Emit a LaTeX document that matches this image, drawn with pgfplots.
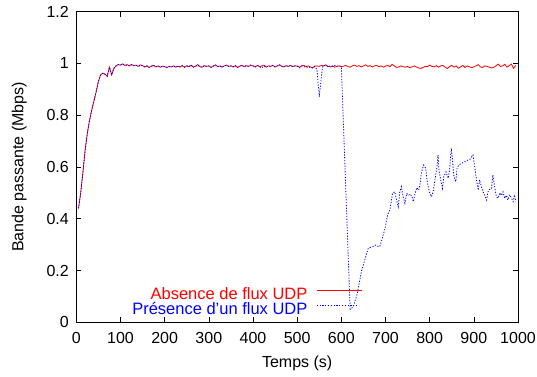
\documentclass[border=0pt]{standalone}
\usepackage{pgfplots}
\pgfplotsset{compat=1.18}
\usepackage{fontspec}
\setmainfont{Liberation Sans}
\begin{document}
\fontsize{16}{19}\selectfont
\begin{tikzpicture}
\begin{axis}[
  name=main,
  scale only axis, width=441.7pt, height=310.8pt,
  xmin=0, xmax=1000, ymin=0, ymax=1.2,
  xtick={0,100,200,300,400,500,600,700,800,900,1000},
  ytick={0,0.2,0.4,0.6,0.8,1,1.2},
  tick align=inside, major tick length=5pt,
  tick style={black, line width=0.6pt},
  axis line style={black, line width=0.8pt},
  /pgf/number format/assume math mode=true,
  /pgf/number format/1000 sep={},
  ticklabel style={font=\fontsize{16}{19}\selectfont},
  xticklabel style={yshift=-4pt},
  yticklabel style={xshift=-2pt},
  xlabel={Temps (s)}, ylabel={Bande passante (Mbps)},
  label style={font=\fontsize{16}{19}\selectfont},
  xlabel style={at={(axis description cs:0.5,-0.132)}, anchor=center},
  ylabel style={at={(axis description cs:-0.129,0.5)}, anchor=center},
  legend plot pos=right,
  legend cell align=right,
  legend style={draw=none, fill=none, at={(rel axis cs:0.648,0.016)}, anchor=south east,
    font=\fontsize{16.5}{16.5}\selectfont, row sep=0pt, column sep=9pt, inner sep=0pt,
    nodes={inner sep=0pt, text height=0.74em, text depth=0.19em}},
]
\addlegendimage{legend image code/.code={\draw[draw=red, line width=0.9pt] (0pt,4.5pt) -- (45pt,4.5pt);}}
\addlegendentry[text=red]{Absence de flux UDP}
\addlegendimage{legend image code/.code={\draw[draw=blue, line width=0.9pt, dash pattern=on 1.2pt off 1.6pt] (0pt,4.5pt) -- (42pt,4.5pt);}}
\addlegendentry[text=blue]{Présence d'un flux UDP}
\addplot[color=red, line width=0.8pt, forget plot] coordinates {
(5,0.44)(10,0.50)(15,0.58)(20,0.665)(25,0.73)(30,0.78)(35,0.82)(40,0.855)(45,0.89)(50,0.93)
(55,0.955)(60,0.962)(65,0.958)(70,0.95)(75,0.985)(80,0.955)(85,0.98)(90,0.99)(95,0.995)
(100,0.993)(105,0.998)(110,0.992)(115,0.995)(120,0.990)(125,0.996)(130,0.991)(135,0.993)(140,0.988)(145,0.994)
(150,0.991)(155,0.986)(160,0.990)(165,0.984)(170,0.989)(175,0.992)(180,0.986)(185,0.990)(190,0.985)(195,0.989)
(200,0.987)(205,0.983)(210,0.988)(215,0.986)(220,0.990)(225,0.985)(230,0.989)(235,0.986)(240,0.991)(245,0.984)
(250,0.990)(255,0.987)(260,0.992)(265,0.985)(270,0.989)(275,0.995)(280,0.987)(285,0.985)(290,0.991)(295,0.988)
(300,0.990)(305,0.984)(310,0.989)(315,0.994)(320,0.987)(325,0.990)(330,0.985)(335,0.990)(340,0.993)(345,0.988)
(350,0.990)(355,0.986)(360,0.991)(365,0.984)(370,0.989)(375,0.992)(380,0.987)(385,0.991)(390,0.988)(395,0.993)
(400,0.990)(405,0.986)(410,0.992)(415,0.987)(420,0.990)(425,0.993)(430,0.985)(435,0.990)(440,0.988)(445,0.992)
(450,0.986)(455,0.990)(460,0.994)(465,0.989)(470,0.986)(475,0.991)(480,0.988)(485,0.992)(490,0.987)(495,0.990)
(500,0.989)(505,0.985)(510,0.990)(515,0.992)(520,0.987)(525,0.990)(530,0.986)(535,0.982)(540,0.989)(545,0.990)
(550,0.988)(555,0.992)(560,0.990)(565,0.994)(570,0.988)(575,0.986)(580,0.990)(585,0.985)(590,0.988)(595,0.990)
(600,0.987)(605,0.989)(610,0.992)(615,0.987)(620,0.985)(625,0.990)(630,0.993)(635,0.988)(640,0.991)(645,0.986)
(650,0.990)(655,0.994)(660,0.988)(665,0.991)(670,0.986)(675,0.990)(680,0.992)(685,0.987)(690,0.990)(695,0.985)
(700,0.989)(705,0.992)(710,0.987)(715,0.996)(720,0.990)(725,0.984)(730,0.986)(735,0.990)(740,0.987)(745,0.985)
(750,0.988)(755,0.983)(760,0.986)(765,0.990)(770,0.986)(775,0.982)(780,0.980)(785,0.984)(790,0.988)(795,0.987)
(800,0.993)(805,0.988)(810,0.986)(815,0.991)(820,0.985)(825,0.990)(830,0.992)(835,0.985)(840,0.980)(845,0.987)
(850,0.992)(855,0.985)(860,0.990)(865,0.981)(870,0.986)(875,0.992)(880,0.984)(885,0.990)(890,0.987)(895,0.983)
(900,0.986)(905,0.990)(910,0.995)(915,0.986)(920,0.984)(925,0.990)(930,0.988)(935,0.985)(940,0.982)(945,0.984)
(950,0.990)(955,0.997)(960,0.988)(965,0.990)(970,0.996)(975,0.985)(980,0.991)(985,0.997)(990,0.980)(995,0.992)
};
\addplot[color=blue, line width=0.8pt, dash pattern=on 1.2pt off 1.6pt, forget plot] coordinates {
(5,0.44)(10,0.50)(15,0.58)(20,0.665)(25,0.73)(30,0.78)(35,0.82)(40,0.855)(45,0.89)(50,0.93)
(55,0.955)(60,0.962)(65,0.958)(70,0.95)(75,0.985)(80,0.955)(85,0.98)(90,0.99)(95,0.995)
(100,0.993)(105,0.997)(110,0.992)(115,0.993)(120,0.990)(125,0.994)(130,0.991)(135,0.993)(140,0.988)(145,0.992)
(150,0.991)(155,0.986)(160,0.990)(165,0.984)(170,0.989)(175,0.992)(180,0.986)(185,0.990)(190,0.985)(195,0.989)
(200,0.987)(205,0.985)(210,0.988)(215,0.986)(220,0.990)(225,0.985)(230,0.989)(235,0.986)(240,0.991)(245,0.986)
(250,0.990)(255,0.987)(260,0.994)(265,0.985)(270,0.989)(275,0.993)(280,0.987)(285,0.985)(290,0.991)(295,0.988)
(300,0.990)(305,0.984)(310,0.989)(315,0.994)(320,0.987)(325,0.990)(330,0.985)(335,0.990)(340,0.993)(345,0.988)
(350,0.990)(355,0.986)(360,0.991)(365,0.984)(370,0.989)(375,0.992)(380,0.987)(385,0.991)(390,0.988)(395,0.993)
(400,0.990)(405,0.986)(410,0.992)(415,0.987)(420,0.982)(425,0.990)(430,0.985)(435,0.990)(440,0.988)(445,0.992)
(450,0.986)(455,0.990)(460,0.994)(465,0.989)(470,0.986)(475,0.991)(480,0.988)(485,0.992)(490,0.987)(495,0.990)
(500,0.989)(505,0.982)(510,0.990)(515,0.986)(520,0.987)(525,0.983)(530,0.986)(535,0.982)(540,0.988)
(545,0.975)(550,0.871)(555,0.950)(558,0.990)(565,0.992)(570,0.986)(575,0.990)(580,0.988)(585,0.992)(590,0.990)
(595,0.989)(600,0.988)(620,0.05)(627,0.06)(636,0.11)(646,0.20)(653,0.24)(661,0.286)(667,0.29)(672,0.292)
(677,0.298)(682,0.294)(687,0.292)(692,0.32)(698,0.356)(703,0.40)(706,0.42)(710,0.434)(716,0.498)(721,0.504)
(725,0.472)(729,0.446)(732,0.50)(736,0.524)(740,0.485)(744,0.46)(748,0.498)(752,0.49)(756,0.495)(760,0.485)
(763,0.466)(767,0.498)(771,0.52)(775,0.51)(778,0.53)(781,0.575)(786,0.607)(791,0.595)(794,0.55)(799,0.504)
(804,0.485)(808,0.504)(812,0.55)(817,0.607)(819,0.646)(821,0.588)(825,0.55)(829,0.517)(832,0.562)(837,0.581)
(842,0.556)(845,0.588)(849,0.672)(851,0.64)(855,0.562)(859,0.543)(862,0.595)(866,0.607)(872,0.614)(879,0.62)
(885,0.625)(891,0.629)(898,0.646)(902,0.60)(906,0.55)(910,0.51)(913,0.55)(917,0.524)(921,0.504)(925,0.49)
(929,0.472)(932,0.504)(936,0.514)(940,0.515)(943,0.569)(947,0.524)(951,0.485)(955,0.479)(959,0.50)(963,0.49)
(966,0.504)(970,0.479)(974,0.49)(977,0.472)(981,0.492)(985,0.48)(989,0.466)(992,0.492)(995,0.466)
};
\end{axis}
\pgfresetboundingbox
\path (main.south west) ++(-76.3pt,-53.7pt) rectangle ++(537pt,376pt);
\end{tikzpicture}
\end{document}
